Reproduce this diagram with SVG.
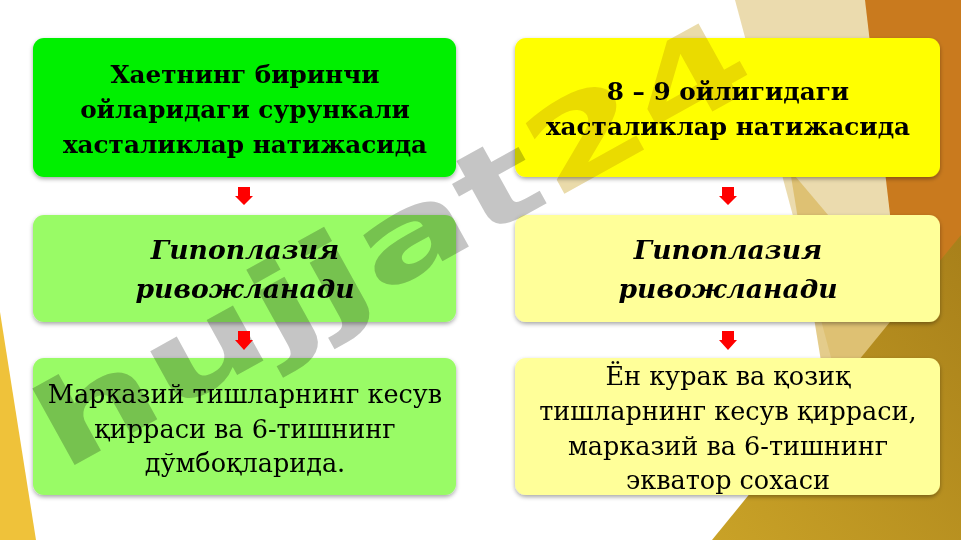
<svg xmlns="http://www.w3.org/2000/svg" width="961" height="540" viewBox="0 0 961 540">
<defs>
<filter id="sh" x="-5%" y="-5%" width="110%" height="115%">
<feDropShadow dx="0" dy="2" stdDeviation="2" flood-color="#000" flood-opacity="0.35"/>
</filter>
<linearGradient id="olive" x1="0" y1="1" x2="1" y2="0">
<stop offset="0" stop-color="#c9a227"/>
<stop offset="1" stop-color="#a8801a"/>
</linearGradient>
<style>
.box{filter:url(#sh);}
.t{fill:#000;text-anchor:middle;}
.b{font-weight:bold;font-size:24.7px;}
.bi{font-weight:bold;font-style:italic;font-size:26.6px;}
.r{font-size:25.5px;}
.arr{fill:#ff0000;}
#watermark{mix-blend-mode:multiply;}
</style>
</defs>
<rect width="961" height="540" fill="#ffffff"/>
<g id="background">
<polygon points="735,0 961,0 961,540 880,540" fill="#e6d29a" opacity="0.8"/>
<polygon points="865,0 961,0 961,540 930,540 900,300" fill="#c97a1e"/>
<polygon points="790,170 900,300 930,540 850,540" fill="#d9b75a" opacity="0.7"/>
<polygon points="712,540 961,235 961,540" fill="url(#olive)"/>
<polygon points="0,312 36,540 0,540" fill="#efc23a"/>
</g>
<g font-family="DejaVu Serif, serif">
<g id="n1"><rect class="box" x="33" y="38" width="423" height="139" rx="11" fill="#00f000"/>
<text class="t b" x="245" y="83">Хаетнинг биринчи</text>
<text class="t b" x="245" y="118">ойларидаги сурункали</text>
<text class="t b" x="245" y="153">хасталиклар натижасида</text></g>
<g id="n2"><rect class="box" x="33" y="215" width="423" height="107" rx="11" fill="#99fb66"/>
<text class="t bi" x="245" y="259">Гипоплазия</text>
<text class="t bi" x="245" y="298">ривожланади</text></g>
<g id="n3"><rect class="box" x="33" y="358" width="423" height="137" rx="11" fill="#99fb66"/>
<text class="t r" x="245" y="403">Марказий тишларнинг кесув</text>
<text class="t r" x="245" y="438">қирраси ва 6-тишнинг</text>
<text class="t r" x="245" y="472">дўмбоқларида.</text></g>
<g id="n4"><rect class="box" x="515" y="38" width="425" height="139" rx="11" fill="#ffff00"/>
<text class="t b" x="728" y="100">8 – 9 ойлигидаги</text>
<text class="t b" x="728" y="135">хасталиклар натижасида</text></g>
<g id="n5"><rect class="box" x="515" y="215" width="425" height="107" rx="11" fill="#ffff99"/>
<text class="t bi" x="728" y="259">Гипоплазия</text>
<text class="t bi" x="728" y="298">ривожланади</text></g>
<g id="n6"><rect class="box" x="515" y="358" width="425" height="137" rx="11" fill="#ffff99"/>
<text class="t r" x="728" y="385">Ён курак ва қозиқ</text>
<text class="t r" x="728" y="420">тишларнинг кесув қирраси,</text>
<text class="t r" x="728" y="455">марказий ва 6-тишнинг</text>
<text class="t r" x="728" y="489">экватор сохаси</text></g>
</g>
<g id="watermark" transform="translate(62,472) rotate(-29)" opacity="0.4">
<text font-family="DejaVu Sans, sans-serif" font-weight="bold" font-size="115" x="0" y="0" textLength="800" lengthAdjust="spacingAndGlyphs"><tspan fill="#6e6e6e">hujjat</tspan><tspan fill="#c9a52a">24</tspan></text>
</g>
<g id="connectors">
<polygon class="arr" points="238,187 250,187 250,196 253,196 244,205 235,196 238,196"/>
<polygon class="arr" points="238,331 250,331 250,340 253,340 244,350 235,340 238,340"/>
<polygon class="arr" points="722,187 734,187 734,196 737,196 728,205 719,196 722,196"/>
<polygon class="arr" points="722,331 734,331 734,340 737,340 728,350 719,340 722,340"/>
</g>
</svg>
